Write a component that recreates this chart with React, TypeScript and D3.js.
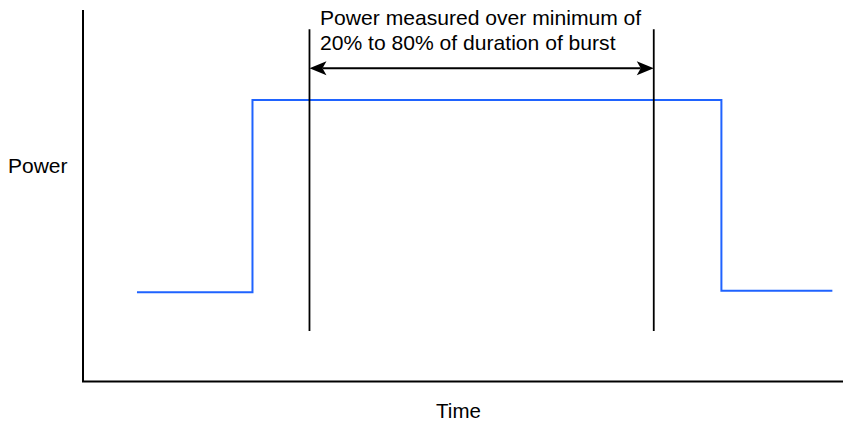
import React, { useEffect } from "react";
import * as d3 from "d3";

// Burst power profile (arbitrary units: time 0-100, power 0-100)
const stepTimes = [7.1, 22.3, 22.3, 84.0, 84.0, 98.6];
const stepPower = [24.0, 24.0, 75.8, 75.8, 24.4, 24.4];
// Measurement window markers (20% / 80% of burst)
const markerTimes = [29.8, 75.1];
const markerPowerRange = [13.6, 94.8];
const arrowPower = 84.3;
const annotationLines = ["Power measured over minimum of", "20% to 80% of duration of burst"];
const xLabel = "Time";
const yLabel = "Power";

const W = 843;
const H = 424;
const FONT = "'Liberation Sans', Arial, Helvetica, sans-serif";

export default function App() {
  useEffect(() => {
    document.body.style.margin = "0";
  }, []);

  const x = d3.scaleLinear().domain([0, 100]).range([83, 843]);
  const y = d3.scaleLinear().domain([0, 100]).range([381.5, 10]);

  const stepLine = d3
    .line<number>()
    .x((_, i) => x(stepTimes[i]))
    .y((d) => y(d));

  const ay = y(arrowPower);
  const xl = x(markerTimes[0]);
  const xr = x(markerTimes[1]);
  const headL = 17;
  const headW = 7;
  const notch = 4;
  const leftHead = `M${xl},${ay} L${xl + headL},${ay - headW} L${xl + headL - notch},${ay} L${xl + headL},${ay + headW} Z`;
  const rightHead = `M${xr},${ay} L${xr - headL},${ay - headW} L${xr - headL + notch},${ay} L${xr - headL},${ay + headW} Z`;

  return (
    <svg width={W} height={H} style={{ display: "block", background: "#fff" }} fontFamily={FONT}>
      {/* axes */}
      <line x1={x(0)} x2={x(0)} y1={y(100)} y2={y(0)} stroke="#000" strokeWidth={2} />
      <line x1={x(0) - 1} x2={x(100)} y1={y(0)} y2={y(0)} stroke="#000" strokeWidth={2} />

      {/* power step */}
      <path d={stepLine(stepPower) || ""} fill="none" stroke="#1f63ff" strokeWidth={2} />

      {/* markers */}
      {markerTimes.map((t, i) => (
        <line
          key={i}
          x1={x(t)}
          x2={x(t)}
          y1={y(markerPowerRange[1])}
          y2={y(markerPowerRange[0])}
          stroke="#000"
          strokeWidth={1.8}
        />
      ))}

      {/* double arrow */}
      <line x1={xl + headL - notch} x2={xr - headL + notch} y1={ay} y2={ay} stroke="#000" strokeWidth={2} />
      <path d={leftHead} fill="#000" />
      <path d={rightHead} fill="#000" />

      {/* annotation */}
      {annotationLines.map((t, i) => (
        <text key={i} x={320} y={25 + i * 25} fontSize={21.1} fill="#000">
          {t}
        </text>
      ))}

      <text x={8} y={173} fontSize={21} fill="#000">
        {yLabel}
      </text>
      <text x={458.5} y={418} fontSize={20.5} textAnchor="middle" fill="#000">
        {xLabel}
      </text>
    </svg>
  );
}
